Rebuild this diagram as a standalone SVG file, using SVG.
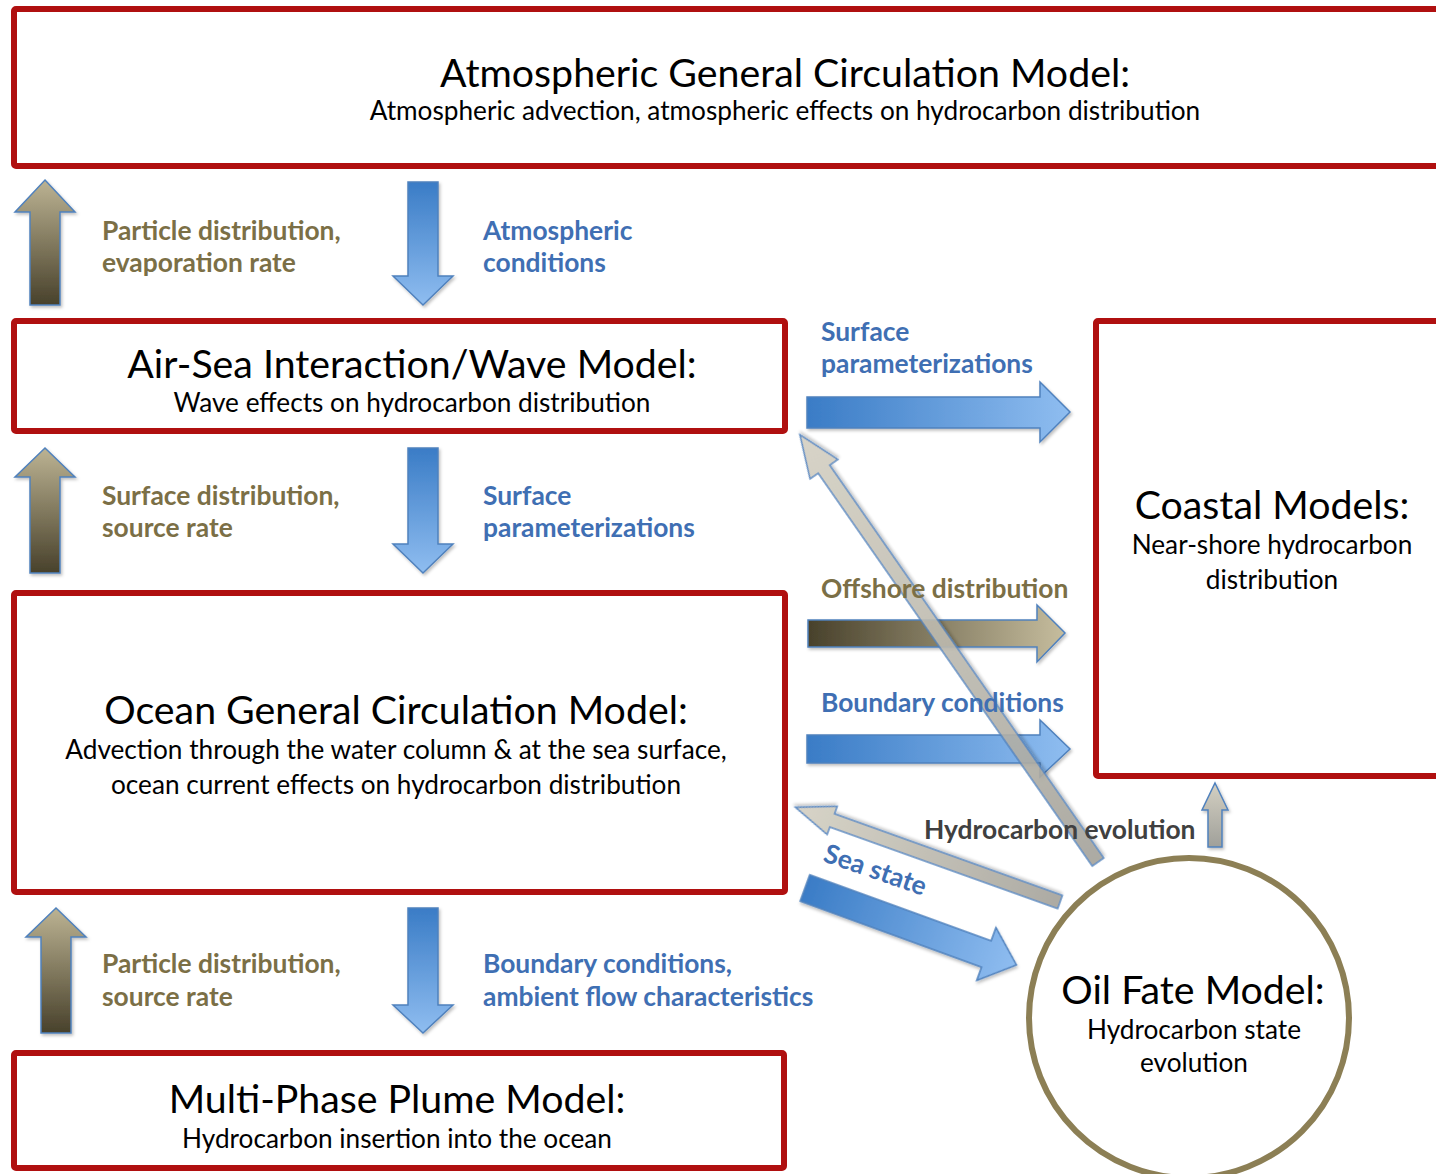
<svg xmlns="http://www.w3.org/2000/svg" width="1436" height="1174" viewBox="0 0 1436 1174">
<defs>
<linearGradient id="gTanUp" x1="0" y1="0" x2="0" y2="1"><stop offset="0" stop-color="#bcb393"/><stop offset="1" stop-color="#48412b"/></linearGradient>
<linearGradient id="gBlueDown" x1="0" y1="0" x2="0" y2="1"><stop offset="0" stop-color="#3a7cc6"/><stop offset="1" stop-color="#8fbdf0"/></linearGradient>
<linearGradient id="gBlueRight" x1="0" y1="0" x2="1" y2="0"><stop offset="0" stop-color="#3a7cc6"/><stop offset="1" stop-color="#8fbdf0"/></linearGradient>
<linearGradient id="gTanRight" x1="0" y1="0" x2="1" y2="0"><stop offset="0" stop-color="#48412b"/><stop offset="1" stop-color="#c6bd9e"/></linearGradient>
<linearGradient id="gGray" x1="0" y1="0" x2="1" y2="0"><stop offset="0" stop-color="#a4a29a"/><stop offset="1" stop-color="#d4d0c2"/></linearGradient>
<linearGradient id="gGrayUp" x1="0" y1="0" x2="0" y2="1"><stop offset="0" stop-color="#d4d0c2"/><stop offset="1" stop-color="#a0a09a"/></linearGradient>
<filter id="sh" x="-10%" y="-10%" width="130%" height="130%"><feDropShadow dx="1.5" dy="2" stdDeviation="1.5" flood-color="#000" flood-opacity="0.25"/></filter>
</defs>
<style>
.box{fill:#fff;stroke:#b01010;stroke-width:6}
.circ{fill:#fff;stroke:#8c7f55;stroke-width:6}
.arr{stroke:#4f81bd;stroke-width:1.5;stroke-linejoin:miter}
.t{font-family:Lato,"Open Sans",sans-serif;fill:#000;text-anchor:middle}
.h{font-size:39.3px}
.s{font-size:26.2px}
.lab{font-family:Lato,"Open Sans",sans-serif;font-weight:bold;font-size:26.4px}
.ol{fill:#7b6f46}
.bl{fill:#3f6fb3}
.gr{fill:#404040}
</style>

<g id="connectors">
  <path class="arr" filter="url(#sh)" fill="url(#gTanUp)" d="M45,180 L75,212 L60,212 L60,305 L30,305 L30,212 L15,212 Z"/>
  <path class="arr" filter="url(#sh)" fill="url(#gTanUp)" d="M45,448 L75,477 L60,477 L60,573 L30,573 L30,477 L15,477 Z"/>
  <path class="arr" filter="url(#sh)" fill="url(#gTanUp)" d="M56,908 L86,937 L71,937 L71,1033 L41,1033 L41,937 L26,937 Z"/>
  <path class="arr" filter="url(#sh)" fill="url(#gBlueDown)" d="M408,182 L438,182 L438,276 L453,276 L423,305 L393,276 L408,276 Z"/>
  <path class="arr" filter="url(#sh)" fill="url(#gBlueDown)" d="M408,448 L438,448 L438,544 L453,544 L423,573 L393,544 L408,544 Z"/>
  <path class="arr" filter="url(#sh)" fill="url(#gBlueDown)" d="M408,908 L438,908 L438,1005 L453,1005 L423,1033 L393,1005 L408,1005 Z"/>
  <path class="arr" filter="url(#sh)" fill="url(#gBlueRight)" d="M807,397 L1040,397 L1040,382 L1070,412 L1040,442 L1040,428 L807,428 Z"/>
  <path class="arr" filter="url(#sh)" fill="url(#gTanRight)" d="M808,620 L1037,620 L1037,605 L1065,633 L1037,662 L1037,647 L808,647 Z"/>
  <path class="arr" filter="url(#sh)" fill="url(#gBlueRight)" d="M807,735 L1040,735 L1040,720 L1070,749 L1040,777 L1040,763 L807,763 Z"/>
  <path class="arr" filter="url(#sh)" fill="url(#gBlueRight)" transform="translate(805,888) rotate(20)" d="M0,-14 L193,-14 L193,-28 L225,0 L193,28 L193,14 L0,14 Z"/>
  <path class="arr" filter="url(#sh)" fill="url(#gGray)" opacity="0.9" transform="translate(1098,862) rotate(-124.9)" d="M0,-7 L479,-7 L479,-17 L521,0 L479,17 L479,7 L0,7 Z"/>
  <path class="arr" filter="url(#sh)" fill="url(#gGray)" opacity="0.9" transform="translate(1060,902) rotate(-160.3)" d="M0,-7 L242,-7 L242,-15 L281,0 L242,15 L242,7 L0,7 Z"/>
  <path class="arr" filter="url(#sh)" fill="url(#gGrayUp)" d="M1215,783 L1228,810 L1222,810 L1222,847 L1208,847 L1208,810 L1202,810 Z"/>

  <text class="lab ol" x="102" y="240">Particle distribution,</text>
  <text class="lab ol" x="102" y="272">evaporation rate</text>
  <text class="lab bl" x="483" y="240">Atmospheric</text>
  <text class="lab bl" x="483" y="272">conditions</text>
  <text class="lab bl" x="821" y="341">Surface</text>
  <text class="lab bl" x="821" y="373">parameterizations</text>
  <text class="lab ol" x="102" y="505">Surface distribution,</text>
  <text class="lab ol" x="102" y="537">source rate</text>
  <text class="lab bl" x="483" y="505">Surface</text>
  <text class="lab bl" x="483" y="537">parameterizations</text>
  <text class="lab ol" x="821" y="598">Offshore distribution</text>
  <text class="lab bl" x="821" y="712">Boundary conditions</text>
  <text class="lab gr" x="924" y="839">Hydrocarbon evolution</text>
  <text class="lab bl" transform="translate(822,861) rotate(19)">Sea state</text>
  <text class="lab ol" x="102" y="973">Particle distribution,</text>
  <text class="lab ol" x="102" y="1006">source rate</text>
  <text class="lab bl" x="483" y="973">Boundary conditions,</text>
  <text class="lab bl" x="483" y="1006">ambient flow characteristics</text>
</g>

<g id="atmospheric">
  <rect class="box" x="14" y="9" width="1440" height="157" rx="2"/>
  <text class="t h" x="785" y="87">Atmospheric General Circulation Model:</text>
  <text class="t s" x="785" y="120">Atmospheric advection, atmospheric effects on hydrocarbon distribution</text>
</g>
<g id="airsea">
  <rect class="box" x="14" y="321" width="771" height="110" rx="2"/>
  <text class="t h" x="412" y="378">Air-Sea Interaction/Wave Model:</text>
  <text class="t s" x="412" y="412">Wave effects on hydrocarbon distribution</text>
</g>
<g id="ocean">
  <rect class="box" x="14" y="593" width="771" height="299" rx="2"/>
  <text class="t h" x="396" y="724">Ocean General Circulation Model:</text>
  <text class="t s" x="396" y="759">Advection through the water column &amp; at the sea surface,</text>
  <text class="t s" x="396" y="794">ocean current effects on hydrocarbon distribution</text>
</g>
<g id="plume">
  <rect class="box" x="14" y="1053" width="770" height="115" rx="2"/>
  <text class="t h" x="397" y="1113">Multi-Phase Plume Model:</text>
  <text class="t s" x="397" y="1148">Hydrocarbon insertion into the ocean</text>
</g>
<g id="coastal">
  <rect class="box" x="1096" y="321" width="360" height="455" rx="2"/>
  <text class="t h" x="1272" y="519">Coastal Models:</text>
  <text class="t s" x="1272" y="554">Near-shore hydrocarbon</text>
  <text class="t s" x="1272" y="589">distribution</text>
</g>
<g id="oilfate">
  <circle class="circ" cx="1189" cy="1018" r="160"/>
  <text class="t h" x="1193" y="1004">Oil Fate Model:</text>
  <text class="t s" x="1194" y="1039">Hydrocarbon state</text>
  <text class="t s" x="1194" y="1072">evolution</text>
</g>
</svg>
